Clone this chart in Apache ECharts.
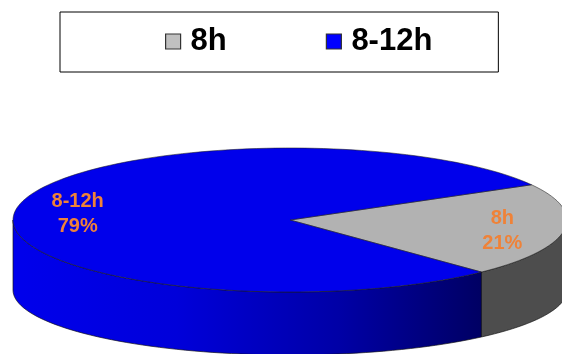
<!DOCTYPE html>
<html>
<head>
<meta charset="utf-8">
<script src="https://cdn.jsdelivr.net/npm/echarts@6/dist/echarts.min.js"></script>
<style>
  html, body { margin: 0; padding: 0; background: #fff; }
  #chart { width: 562px; height: 354px; }
</style>
</head>
<body>
<div id="chart"></div>
<script>
// Working-hours split
const categories = ['8h', '8-12h'];
const shares = [21, 79];

// Colours for each slice: top face, legend swatch, side wall
const FONT = '"Liberation Sans", Arial, Helvetica, sans-serif';
const topColors = ['#B2B2B2', '#0000EB'];
const legendColors = ['#C0C0C0', '#0000FF'];
const sideColors = [
  '#4D4D4D',
  new echarts.graphic.LinearGradient(13, 0, 480, 0, [
    { offset: 0, color: '#0000EC' },
    { offset: 0.35, color: '#0000DA' },
    { offset: 0.7, color: '#0000A6' },
    { offset: 1, color: '#000064' }
  ], true)
];
const labelColor = '#EF8238';

// Tilted disc: top ellipse, bottom ellipse, first slice starts here and runs clockwise
const disc = { cx: 290, rx: 277, topCy: 220, topRy: 72, botCy: 290, botRy: 65, startDeg: 29.3 };
const total = shares.reduce((a, b) => a + b, 0);

function sliceRange(i) {
  let before = 0;
  for (let j = 0; j < i; j++) before += shares[j];
  const hi = disc.startDeg - before / total * 360;
  const lo = hi - shares[i] / total * 360;
  return [lo, hi];
}

function pt(deg, cy, ry, f) {
  const r = deg * Math.PI / 180;
  const k = f == null ? 1 : f;
  return [disc.cx + disc.rx * k * Math.cos(r), cy - ry * k * Math.sin(r)];
}

function arc(lo, hi, cy, ry) {
  const n = Math.max(2, Math.ceil((hi - lo) / 2));
  const pts = [];
  for (let k = 0; k <= n; k++) pts.push(pt(lo + (hi - lo) * k / n, cy, ry));
  return pts;
}

// Portions of [lo, hi] that face the viewer (lower half of the disc)
function frontParts(lo, hi) {
  const parts = [];
  for (let k = -2; k <= 1; k++) {
    const a = Math.max(lo, -180 + 360 * k);
    const b = Math.min(hi, 360 * k);
    if (b > a) parts.push([a, b]);
  }
  return parts;
}

function renderSlice(params, api) {
  const i = params.seriesIndex;
  const [lo, hi] = sliceRange(i);
  const children = [];
  frontParts(lo, hi).forEach(([a, b]) => {
    const pts = arc(a, b, disc.topCy, disc.topRy).concat(arc(a, b, disc.botCy, disc.botRy).reverse());
    children.push({
      type: 'polygon',
      shape: { points: pts },
      style: { fill: sideColors[i], stroke: 'rgba(20,20,20,0.85)', lineWidth: 0.8 }
    });
  });
  const topPts = [[disc.cx, disc.topCy]].concat(arc(lo, hi, disc.topCy, disc.topRy));
  children.push({
    type: 'polygon',
    shape: { points: topPts },
    style: { fill: topColors[i], stroke: 'rgba(30,30,30,0.8)', lineWidth: 0.7 }
  });
  const mid = (lo + hi) / 2;
  const lp = pt(mid, disc.topCy, disc.topRy, 0.775);
  const pct = Math.round(api.value(0) / total * 100);
  children.push({
    type: 'text',
    z2: 10,
    style: {
      text: categories[i] + '\n' + pct + '%',
      x: lp[0],
      y: lp[1] + 2.5,
      fill: labelColor,
      font: 'bold 20px ' + FONT,
      align: 'center',
      verticalAlign: 'middle',
      lineHeight: 25
    }
  });
  return { type: 'group', children: children };
}

const chart = echarts.init(document.getElementById('chart'), null, { renderer: 'canvas' });
chart.setOption({
  animation: false,
  backgroundColor: '#fff',
  legend: {
    left: 60,
    top: 12,
    orient: 'horizontal',
    icon: 'rect',
    itemWidth: 15,
    itemHeight: 15,
    itemGap: 99,
    padding: [14, 66, 15, 105],
    borderColor: '#000',
    borderWidth: 1,
    selectedMode: false,
    textStyle: { fontSize: 31, fontWeight: 'bold', fontFamily: FONT, color: '#000', padding: [0, 0, 0, 5] },
    data: categories.map((c, i) => ({
      name: c,
      itemStyle: { color: legendColors[i], borderColor: '#333', borderWidth: 1.2 }
    }))
  },
  series: categories.map((c, i) => ({
    type: 'custom',
    name: c,
    coordinateSystem: 'none',
    silent: true,
    itemStyle: { color: legendColors[i] },
    data: [{ name: c, value: [shares[i]] }],
    renderItem: renderSlice
  }))
});
</script>
</body>
</html>
